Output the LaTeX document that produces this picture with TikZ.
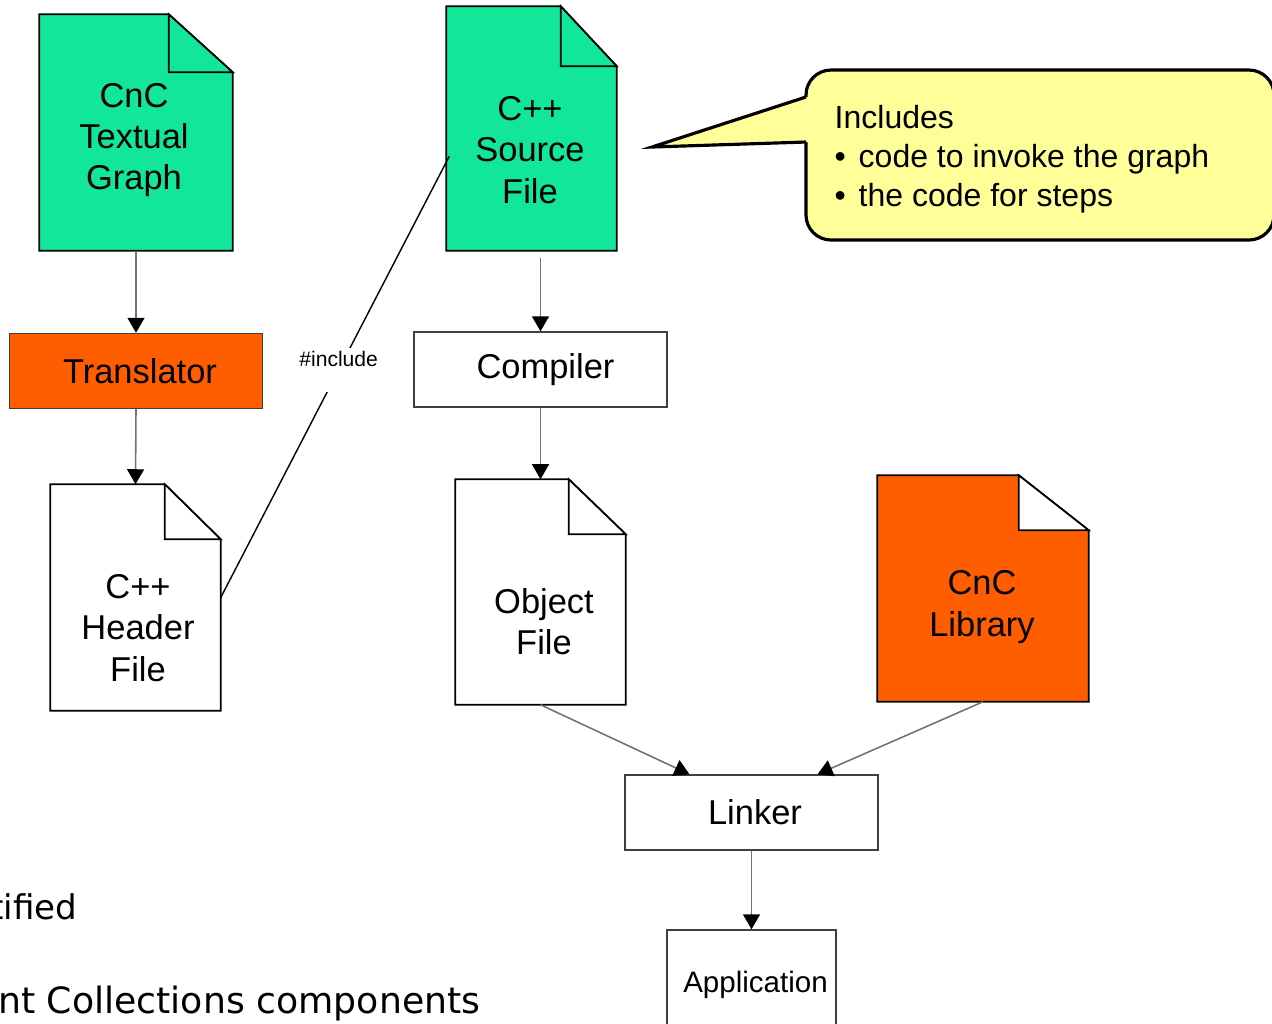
\documentclass[tikz,border=0pt]{standalone}
\usepackage{fontspec}
\setmainfont{Liberation Sans}
\newfontfamily\verdanafont{DejaVu Sans}
\usetikzlibrary{arrows.meta, positioning, calc}
\definecolor{cncgreen}{RGB}{18,230,152}
\definecolor{cncorange}{RGB}{255,94,0}
\definecolor{noteyellow}{RGB}{255,255,153}
\definecolor{linegray}{RGB}{115,115,115}

% outline of a file with its folded corner
\newcommand{\docfold}[5]{%
  \draw[docline, fill=#2] (#1.south west) -- (#1.north west)
    -- ([xshift=-#4]#1.north east) -- ([yshift=-#5]#1.north east)
    -- (#1.south east) -- cycle;
  \draw[docline, fill=#3] ([xshift=-#4]#1.north east)
    |- ([yshift=-#5]#1.north east) -- cycle;}

\begin{document}
\begin{tikzpicture}[x=0.01cm, y=-0.01cm,
  docshape/.style={inner sep=0pt, minimum width=1.69cm, minimum height=2.25cm},
  docline/.style={draw=black, line width=0.5pt},
  doctext/.style={align=center, inner sep=0pt, font=\fontsize{9.8}{11.7}\selectfont},
  tool/.style={draw=black!75, line width=0.4pt, minimum width=2.53cm,
               minimum height=0.75cm, font=\fontsize{9.8}{11.7}\selectfont},
  flow/.style={linegray, line width=0.45pt,
               -{Triangle[width=0.17cm, length=0.15cm, color=black]}},
  note/.style={draw=black, line width=0.9pt, fill=noteyellow}]
  \useasboundingbox (0,0) rectangle (1272,1023);

  % File shapes
  \node[docshape, minimum width=1.92cm, minimum height=2.35cm] (graph) at (136,132.5) {};
  \node[docshape, minimum height=2.43cm] (src) at (531.5,128.5) {};
  \node[docshape] (hdr) at (135.5,597.5) {};
  \node[docshape, minimum height=2.24cm] (obj) at (540.5,592) {};
  \node[docshape, minimum width=2.10cm] (lib) at (983,588.5) {};
  \docfold{graph}{cncgreen}{cncgreen}{0.64cm}{0.58cm}
  \docfold{src}{cncgreen}{cncgreen}{0.56cm}{0.60cm}
  \docfold{hdr}{white}{white}{0.56cm}{0.55cm}
  \docfold{obj}{white}{white}{0.57cm}{0.55cm}
  \docfold{lib}{cncorange}{white}{0.70cm}{0.55cm}

  % File names
  \node[doctext] (graph-t) at (134,140) {CnC\\Textual\\Graph};
  \node[doctext] (src-t) at (530,150) {C++\\Source\\File};
  \node[doctext] (hdr-t) at (138,628) {C++\\Header\\File};
  \node[doctext] (obj-t) at (544,622) {Object\\File};
  \node[doctext] (lib-t) at (982,607) {CnC\\Library};

  % Tools
  \node[tool, fill=cncorange] (trans) at (136,371) {\hspace*{0.08cm}Translator};
  \node[tool] (cmp) at (540.5,369.5) {\hspace*{0.1cm}Compiler};
  \node[tool] (lnk) at (751.5,812.5) {\hspace*{0.07cm}Linker};
  \node[tool, minimum width=1.69cm, minimum height=1.1cm, inner xsep=0pt,
        font=\fontsize{8.4}{10}\selectfont] (app) at (751.5,985) {\hspace*{0.08cm}Application};

  % Arrows
  \draw[flow] (graph.south) -- (trans.north);
  \draw[flow] (trans.south) -- (hdr.north);
  \draw[flow] ([yshift=-0.07cm]src.south -| cmp.north) -- (cmp.north);
  \draw[flow] (cmp.south) -- (obj.north);
  \draw[flow] (obj.south) -- ([xshift=-0.62cm]lnk.north);
  \draw[flow] (lib.south) -- ([xshift=0.66cm]lnk.north);
  \draw[flow] (lnk.south) -- (app.north);

  % #include link
  \coordinate (src-in) at ([xshift=0.03cm, yshift=-1.5cm]src.north west);
  \draw[black, line width=0.4pt] (hdr.east) -- node[pos=0.516, fill=white,
    inner sep=0pt, inner xsep=2pt, text height=0.19cm, text depth=0.25cm,
    font=\fontsize{6}{7}\selectfont] (incl) {\#include} (src-in);

  % Callout
  \draw[note, rounded corners=0.25cm] (806,70) rectangle (1274,240);
  \fill[noteyellow] (652,147) -- (806,97) -- (809,97) -- (809,142) -- (806,142) -- cycle;
  \draw[black, line width=0.9pt, line join=miter] (806,142) -- (652,147) -- (806,97);
  \node[anchor=north west, align=left, inner sep=0pt,
        font=\fontsize{9.1}{11.1}\selectfont] (note-t) at (834,105)
    {Includes\\\makebox[0.24cm][l]{•}code to invoke the graph\\
     \makebox[0.24cm][l]{•}the code for steps};

  % Slide text behind the picture
  \node[anchor=base east, inner sep=0pt, font=\verdanafont\fontsize{9.7}{11.6}\selectfont]
    (line1) at (78,919) {tified};
  \node[anchor=base east, inner sep=0pt, font=\verdanafont\fontsize{10.3}{12.3}\selectfont]
    (line2) at (481,1013) {nt Collections components};
\end{tikzpicture}
\end{document}
